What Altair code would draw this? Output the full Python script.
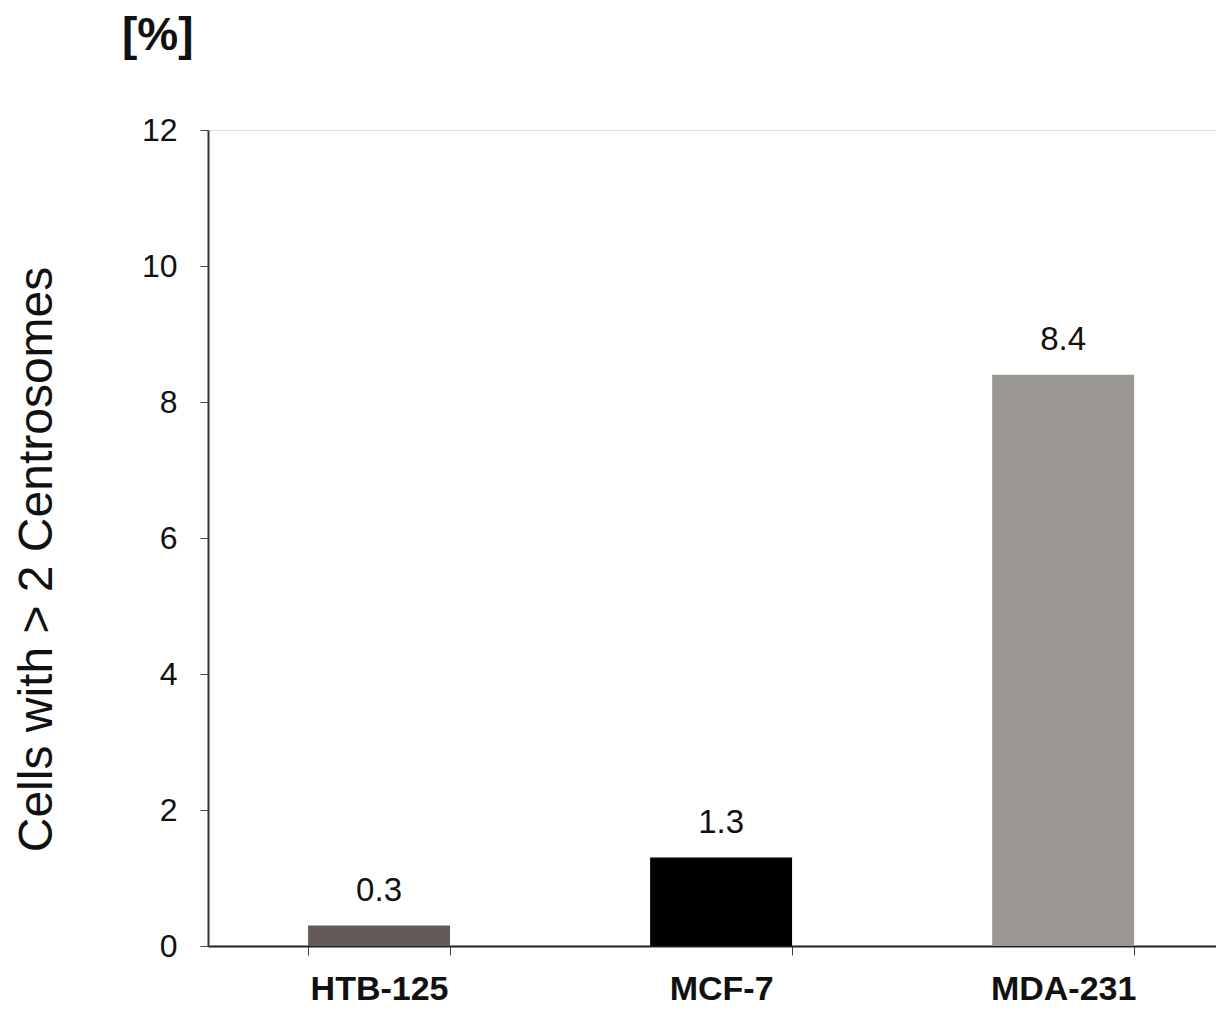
import altair as alt
import pandas as pd

cell_lines = ["HTB-125", "MCF-7", "MDA-231"]
percent_cells = [0.3, 1.3, 8.4]
value_labels = ["0.3", "1.3", "8.4"]
bar_colors = ["#645859", "#000000", "#9b9793"]
y_ticks = [0, 2, 4, 6, 8, 10, 12]

df = pd.DataFrame({
    "line": cell_lines,
    "value": percent_cells,
    "label": value_labels,
})

FONT = "Liberation Sans"

x = alt.X(
    "line:N",
    sort=cell_lines,
    scale=alt.Scale(paddingInner=0.585, paddingOuter=0.266, align=0.55),
    axis=alt.Axis(
        title=None,
        labelAngle=0,
        labelFont=FONT,
        labelFontSize=34,
        labelFontWeight="bold",
        labelColor="#111111",
        labelPadding=17,
        tickBand="extent",
        tickSize=9,
        tickColor="#444444",
        tickWidth=1,
        domainColor="#222222",
        domainWidth=2,
        grid=False,
    ),
)

y = alt.Y(
    "value:Q",
    scale=alt.Scale(domain=[0, 12], nice=False),
    axis=alt.Axis(
        title="Cells with > 2 Centrosomes",
        titleFont=FONT,
        titleFontSize=48,
        titleFontWeight="normal",
        titleColor="#111111",
        titleX=-147,
        titleY=429,
        values=y_ticks,
        format="d",
        labelFont=FONT,
        labelFontSize=32,
        labelColor="#111111",
        labelPadding=23,
        tickSize=8,
        tickColor="#444444",
        domainColor="#333333",
        domainWidth=2,
        grid=False,
    ),
)

bars = alt.Chart(df).mark_bar().encode(
    x=x,
    y=y,
    color=alt.Color("line:N", scale=alt.Scale(domain=cell_lines, range=bar_colors), legend=None),
)

labels = alt.Chart(df).mark_text(
    font=FONT, fontSize=33, baseline="alphabetic", dy=-25, color="#111111"
).encode(
    x=alt.X("line:N", sort=cell_lines),
    y=alt.Y("value:Q"),
    text="label:N",
)

chart = (
    alt.layer(bars, labels)
    .properties(
        width=1008,
        height=816,
        title=alt.TitleParams(
            "[%]",
            anchor="start",
            frame="group",
            dx=-86,
            offset=54,
            font=FONT,
            fontSize=46,
            fontWeight="bold",
            color="#111111",
        ),
        autosize=alt.AutoSizeParams(type="none"),
        padding={"left": 200, "top": 122, "right": 0, "bottom": 60},
    )
    .configure_view(stroke="#8a8a8a", strokeWidth=2)
    .configure(background="white")
)

chart.save("out.html", embed_options={"renderer": "svg", "actions": False})
